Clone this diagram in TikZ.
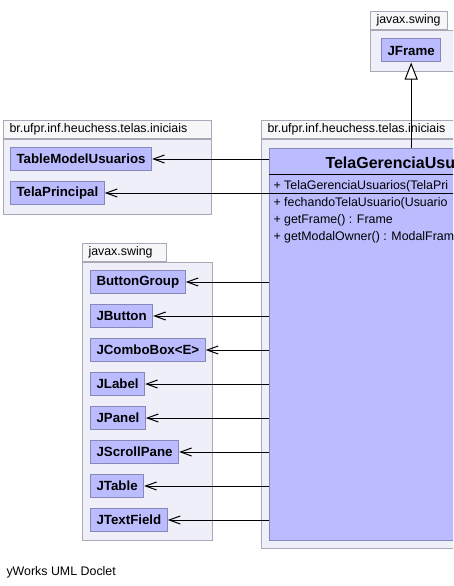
\documentclass[tikz,border=0pt]{standalone}
\usepackage{fontspec}
\setmainfont{Liberation Sans}
\usetikzlibrary{positioning,arrows.meta}
\definecolor{classfill}{RGB}{187,187,255}
\definecolor{classline}{RGB}{136,136,184}
\definecolor{pkgfill}{RGB}{239,239,250}
\definecolor{pkgline}{RGB}{168,168,182}
\definecolor{tabfill}{RGB}{247,247,250}
\newcommand{\pkgfont}{\fontsize{12.4}{14}\selectfont}
\newcommand{\clsfont}{\bfseries\fontsize{13.3}{15}\selectfont}
\tikzstyle{classbox} = [rectangle, draw=classline, fill=classfill, minimum height=23pt, inner xsep=6pt, inner ysep=0pt, font=\clsfont]
\tikzstyle{pkgtab} = [rectangle, draw=pkgline, fill=tabfill, minimum height=18pt, inner xsep=6pt, inner ysep=0pt, align=left, anchor=south west, font=\pkgfont]
\tikzstyle{pkgbody} = [rectangle, draw=pkgline, fill=pkgfill, inner sep=0pt, anchor=north west]
\tikzstyle{member} = [anchor=base west, inner sep=0pt, font=\pkgfont]
\tikzstyle{arrow} = [->, >={Straight Barb[length=11pt,width=8pt]}]
\tikzstyle{extends} = [-{Triangle[length=17pt,width=13pt,fill=white]}]

\begin{document}
\begin{tikzpicture}[x=1pt, y=-1pt, line width=1pt, node distance=10pt]
\useasboundingbox (0,0) rectangle (453,586);
\clip (0,0) rectangle (453,586);
% packages
\node[pkgtab, text width=65pt] (tabframe) at (370,30) {javax.swing};
\node[pkgbody, minimum width=95pt, minimum height=41pt] (pkgframe) at (370,30) {};
\node[pkgtab, text width=196pt] (tabtelas) at (3,139) {br.ufpr.inf.heuchess.telas.iniciais};
\node[pkgbody, minimum width=208pt, minimum height=75pt] (pkgtelas) at (3,139) {};
\node[pkgtab, text width=200pt] (tabgerencia) at (261,139) {br.ufpr.inf.heuchess.telas.iniciais};
\node[pkgbody, minimum width=200pt, minimum height=409pt] (pkggerencia) at (261,139) {};
\node[pkgtab, text width=72pt] (tabswing) at (82,262) {javax.swing};
\node[pkgbody, minimum width=130pt, minimum height=278pt] (pkgswing) at (82,262) {};

% classes
\node[classbox, anchor=west] (jframe) at (381,50.5) {JFrame};
\node[classbox, anchor=west] (tablemodel) at (10,159) {TableModelUsuarios};
\node[classbox, below=of tablemodel.south west, anchor=north west] (telaprincipal) {TelaPrincipal};
\node[classbox, anchor=west] (buttongroup) at (90,282) {ButtonGroup};
\node[classbox, below=of buttongroup.south west, anchor=north west] (jbutton) {JButton};
\node[classbox, below=of jbutton.south west, anchor=north west] (jcombobox) {JComboBox<E>};
\node[classbox, below=of jcombobox.south west, anchor=north west] (jlabel) {JLabel};
\node[classbox, below=of jlabel.south west, anchor=north west] (jpanel) {JPanel};
\node[classbox, below=of jpanel.south west, anchor=north west] (jscrollpane) {JScrollPane};
\node[classbox, below=of jscrollpane.south west, anchor=north west] (jtable) {JTable};
\node[classbox, below=of jtable.south west, anchor=north west] (jtextfield) {JTextField};

% TelaGerenciaUsuarios
\node[rectangle, draw=classline, fill=classfill, anchor=north west, minimum width=300pt, minimum height=392pt, inner sep=0pt] (tela) at (269,148) {};
\node[anchor=base west, inner sep=0pt, font=\bfseries\fontsize{16}{18}\selectfont] (telatitle) at (325,168.5) {TelaGerenciaUsu};
\draw (tela.north west) ++(0,26) -- ++(300,0);
\draw (tela.north west) ++(0,45) -- ++(300,0);
\node[member] (ctor) at (273,189) {+ TelaGerenciaUsuarios(TelaPri};
\node[member] (fechando) at (273,206) {+ fechandoTelaUsuario(Usuario};
\node[member] (getframe) at (273,223) {+ getFrame() : Frame};
\node[member] (getowner) at (273,240) {+ getModalOwner() : ModalFrame};

% connectors
\draw[extends] (jframe.south |- tela.north) -- (jframe.south);
\draw[arrow] (tela.west |- tablemodel.east) -- (tablemodel.east);
\draw[arrow] (tela.west |- telaprincipal.east) -- (telaprincipal.east);
\draw[arrow] (tela.west |- buttongroup.east) -- (buttongroup.east);
\draw[arrow] (tela.west |- jbutton.east) -- (jbutton.east);
\draw[arrow] (tela.west |- jcombobox.east) -- (jcombobox.east);
\draw[arrow] (tela.west |- jlabel.east) -- (jlabel.east);
\draw[arrow] (tela.west |- jpanel.east) -- (jpanel.east);
\draw[arrow] (tela.west |- jscrollpane.east) -- (jscrollpane.east);
\draw[arrow] (tela.west |- jtable.east) -- (jtable.east);
\draw[arrow] (tela.west |- jtextfield.east) -- (jtextfield.east);

\node[member] (doclet) at (6,575) {yWorks UML Doclet};
\end{tikzpicture}
\end{document}
